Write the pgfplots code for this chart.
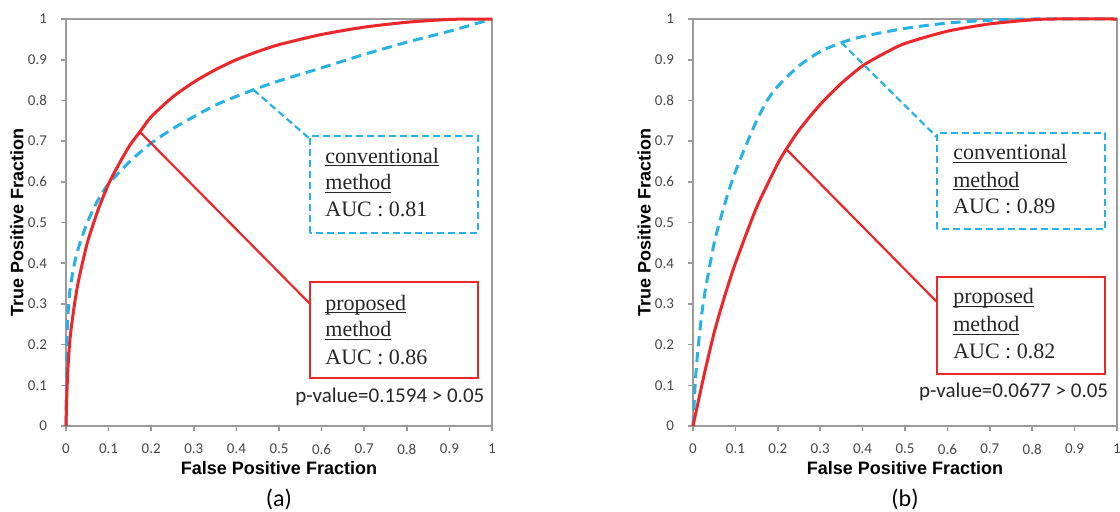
\documentclass[border=0pt]{standalone}
\usepackage{pgfplots}
\pgfplotsset{compat=1.18}
\usepackage{fontspec}
\setmainfont{Carlito}
\newfontfamily\labfont{Liberation Sans}
\newfontfamily\boxfont{Liberation Serif}

\definecolor{rocred}{RGB}{237,38,42}
\definecolor{rocblue}{RGB}{38,178,228}
\definecolor{framegray}{RGB}{155,155,155}
\definecolor{ticktext}{RGB}{70,70,70}

% underline just below the baseline, crossing descenders as in the figure
\newcommand{\ul}[1]{\setbox0\hbox{#1}\rlap{\rule[-1.7pt]{\wd0}{0.5pt}}\box0}

\pgfplotsset{
  rocaxis/.style={
    scale only axis,
    width=213pt, height=203.5pt,
    xmin=0, xmax=1, ymin=0, ymax=1,
    xtick={0,0.1,0.2,0.3,0.4,0.5,0.6,0.7,0.8,0.9,1},
    ytick={0,0.1,0.2,0.3,0.4,0.5,0.6,0.7,0.8,0.9,1},
    xticklabels={0,0.1,0.2,0.3,0.4,0.5,0.6,0.7,0.8,0.9,1},
    yticklabels={0,0.1,0.2,0.3,0.4,0.5,0.6,0.7,0.8,0.9,1},
    tick align=outside, xtick pos=bottom, ytick pos=left,
    major tick length=2.5pt,
    axis line style={framegray, line width=1.1pt},
    tick style={framegray, line width=0.8pt},
    tick label style={font=\fontsize{7.5}{9}\selectfont, text=ticktext},
    xticklabel style={yshift=-3pt},
    yticklabel style={xshift=-3.5pt},
    label style={font=\labfont\bfseries\fontsize{9}{11}\selectfont},
    x label style={at={(axis description cs:0.5,-0.103)}, anchor=center},
    y label style={at={(axis description cs:-0.115,0.5)}, anchor=center},
    xlabel={False Positive Fraction},
    ylabel={True Positive Fraction},
    clip=false,
  },
}
\tikzset{
  proposed/.style={rocred, line width=1.5pt, smooth, tension=0.4},
  conventional/.style={rocblue, line width=1.5pt, dash pattern=on 5pt off 3pt, smooth, tension=0.4},
  redbox/.style={rocred, line width=1.1pt},
  bluebox/.style={rocblue, line width=1.1pt, dash pattern=on 3.5pt off 2pt},
  boxtext/.style={anchor=base west, inner sep=0pt, font=\boxfont\fontsize{11}{13}\selectfont, text=black!85},
  pval/.style={anchor=east, inner sep=0pt, font=\fontsize{10.5}{12}\selectfont, text=black!85},
  panel/.style={font=\fontsize{12}{14}\selectfont},
}

\begin{document}
\begin{tikzpicture}

% (a)
\begin{axis}[rocaxis, at={(33pt,42.5pt)}, anchor=south west]
\addplot[conventional] coordinates {
  (0,0) (0.002,0.2) (0.005,0.28) (0.01,0.34) (0.02,0.40) (0.03,0.44)
  (0.05,0.50) (0.075,0.555) (0.1,0.595) (0.15,0.65) (0.2,0.695)
  (0.25,0.73) (0.3,0.76) (0.35,0.788) (0.4,0.81) (0.45,0.83) (0.5,0.848)
  (0.6,0.88) (0.7,0.913) (0.8,0.943) (0.9,0.97) (1,1)
};
\addplot[proposed] coordinates {
  (0,0) (0.002,0.08) (0.005,0.15) (0.01,0.22) (0.02,0.30) (0.03,0.36)
  (0.05,0.45) (0.075,0.53) (0.1,0.595) (0.125,0.645) (0.15,0.69)
  (0.175,0.725) (0.2,0.76) (0.25,0.808) (0.3,0.845) (0.35,0.875) (0.4,0.9)
  (0.45,0.92) (0.5,0.937) (0.6,0.962) (0.7,0.98) (0.8,0.992) (0.9,0.999) (1,1)
};
\draw[bluebox] (0.44,0.826) -- (0.573,0.705);
\draw[bluebox] (0.573,0.474) rectangle (0.967,0.7125);
\draw[redbox] (0.174,0.722) -- (0.573,0.30);
\draw[redbox] (0.573,0.118) rectangle (0.967,0.354);
\node[boxtext] at (0.608,0.646) {\ul{conventional}};
\node[boxtext] at (0.608,0.580) {\ul{method}};
\node[boxtext] at (0.608,0.514) {AUC : 0.81};
\node[boxtext] at (0.608,0.285) {\ul{proposed}};
\node[boxtext] at (0.608,0.219) {\ul{method}};
\node[boxtext] at (0.608,0.152) {AUC : 0.86};
\node[pval] at (0.983,0.071) {p-value=0.1594 > 0.05};
\node[panel] at (axis description cs:0.5,-0.18) {(a)};
\end{axis}

% (b)
\begin{axis}[rocaxis, width=212pt, at={(346.5pt,42.5pt)}, anchor=south west]
\addplot[conventional] coordinates {
  (0,0) (0.005,0.1) (0.01,0.17) (0.02,0.27) (0.03,0.34) (0.05,0.45)
  (0.065,0.51) (0.082,0.57) (0.1,0.625) (0.125,0.69) (0.15,0.75)
  (0.175,0.80) (0.2,0.835) (0.25,0.885) (0.3,0.92) (0.35,0.942)
  (0.4,0.957) (0.5,0.977) (0.6,0.99) (0.7,0.997) (0.8,1) (1,1)
};
\addplot[proposed] coordinates {
  (0,0) (0.025,0.12) (0.05,0.23) (0.075,0.32) (0.1,0.40) (0.15,0.537)
  (0.2,0.645) (0.22,0.68) (0.25,0.727) (0.3,0.79) (0.35,0.842) (0.4,0.885)
  (0.45,0.915) (0.5,0.94) (0.6,0.97) (0.7,0.988) (0.8,0.998) (0.85,1) (1,1)
};
\draw[bluebox] (0.35,0.942) -- (0.575,0.71);
\draw[bluebox] (0.575,0.484) rectangle (0.972,0.72);
\draw[redbox] (0.22,0.68) -- (0.575,0.305);
\draw[redbox] (0.575,0.128) rectangle (0.972,0.366);
\node[boxtext] at (0.613,0.654) {\ul{conventional}};
\node[boxtext] at (0.613,0.587) {\ul{method}};
\node[boxtext] at (0.613,0.521) {AUC : 0.89};
\node[boxtext] at (0.613,0.300) {\ul{proposed}};
\node[boxtext] at (0.613,0.233) {\ul{method}};
\node[boxtext] at (0.613,0.167) {AUC : 0.82};
\node[pval] at (0.98,0.084) {p-value=0.0677 > 0.05};
\node[panel] at (axis description cs:0.5,-0.18) {(b)};
\end{axis}

% page cut as in the reference, right tick label clipped
\pgfresetboundingbox
\useasboundingbox (0,0) rectangle (560pt,255.5pt);
\end{tikzpicture}
\end{document}
